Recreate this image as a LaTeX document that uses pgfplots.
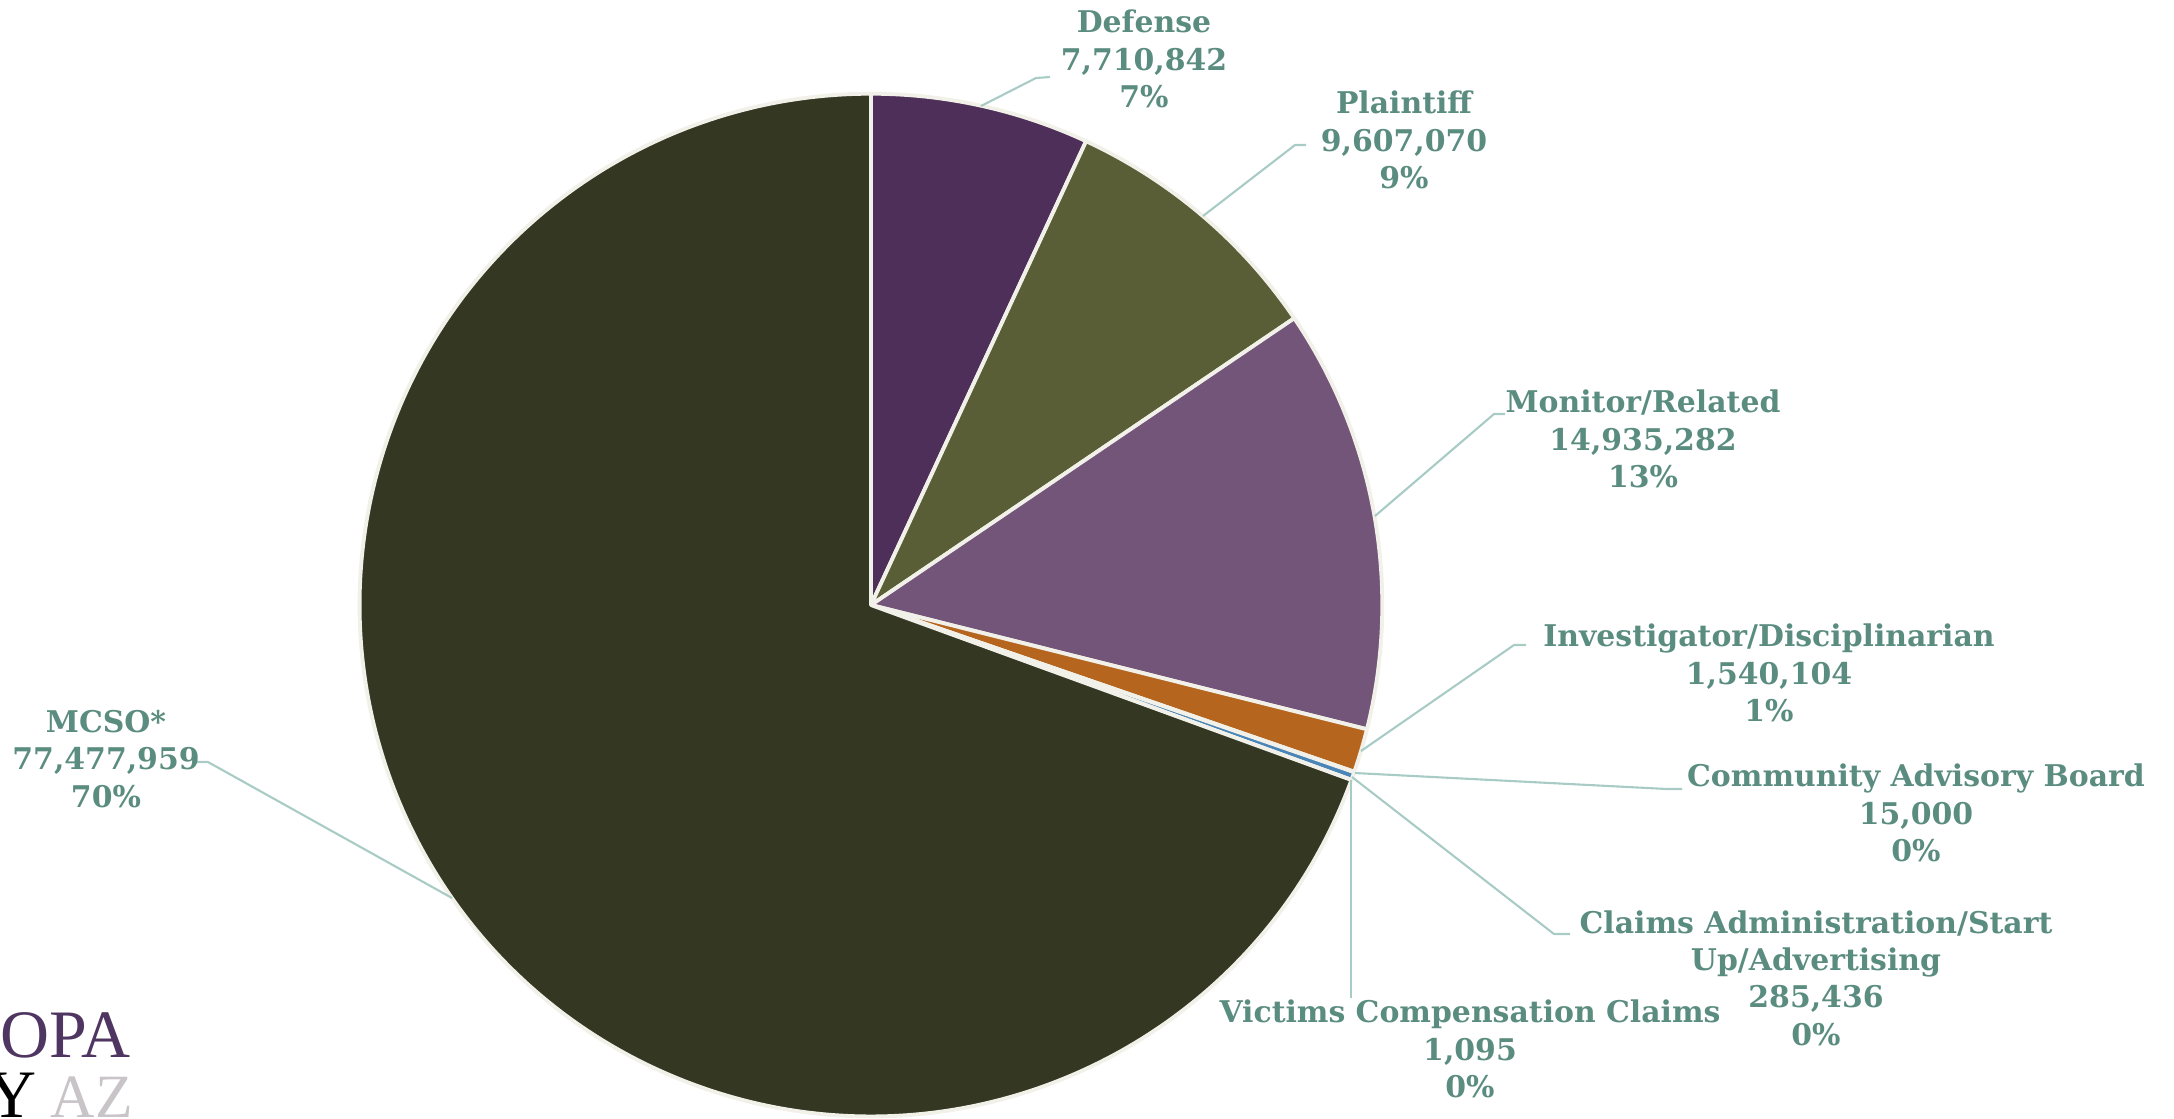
\documentclass[border=0pt]{standalone}
\usepackage{fontspec}
\usepackage{pgfplots}
\usepackage{pgfplotstable}
\pgfplotsset{compat=1.18}
\setmainfont{DejaVu Serif}
\newfontfamily\logofont{Liberation Serif}

\definecolor{cDef}{HTML}{4E2F5A}
\definecolor{cPla}{HTML}{5A5E37}
\definecolor{cMon}{HTML}{735579}
\definecolor{cInv}{HTML}{B5651E}
\definecolor{cCab}{HTML}{8A8A8A}
\definecolor{cCla}{HTML}{4A85B8}
\definecolor{cVic}{HTML}{9A9A9A}
\definecolor{cMcs}{HTML}{343822}
\definecolor{edge}{HTML}{F2F1E9}
\definecolor{labcol}{HTML}{5B8C80}
\definecolor{leader}{HTML}{A8CCC5}
\definecolor{logopurple}{HTML}{4F3561}
\definecolor{logogray}{HTML}{C8C4C8}

\tikzset{lab/.style={font=\bfseries\fontsize{8.5}{10.6}\selectfont, text=labcol, align=center, inner sep=0pt}}

% spending by category, clockwise from the top
\pgfplotstableread[col sep=comma]{
label,value,col
Defense,7710842,cDef
Plaintiff,9607070,cPla
Monitor/Related,14935282,cMon
Investigator/Disciplinarian,1540104,cInv
Community Advisory Board,15000,cCab
Claims Administration,285436,cCla
Victims Compensation Claims,1095,cVic
MCSO,77477959,cMcs
}\piedata

% total and slice angles
\def\tot{0}%
\pgfplotsforeachungrouped \i in {0,...,7}{%
  \pgfplotstablegetelem{\i}{value}\of\piedata
  \xdef\tot{\fpeval{\tot+\pgfplotsretval}}%
}%
\def\cum{0}%
\pgfplotsforeachungrouped \i in {0,...,7}{%
  \pgfplotstablegetelem{\i}{value}\of\piedata
  \let\v\pgfplotsretval
  \expandafter\xdef\csname aS\i\endcsname{\fpeval{90-360*\cum/\tot}}%
  \xdef\cum{\fpeval{\cum+\v}}%
  \expandafter\xdef\csname aE\i\endcsname{\fpeval{90-360*\cum/\tot}}%
  \pgfplotstablegetelem{\i}{col}\of\piedata
  \expandafter\xdef\csname cS\i\endcsname{\pgfplotsretval}%
}%

\begin{document}
\begin{tikzpicture}
\begin{axis}[
    x=0.01cm, y=0.01cm,
    xmin=0, xmax=2174, ymin=0, ymax=1118,
    y dir=reverse,
    enlargelimits=false,
    hide axis,
    clip=false,
]
% wedges
\pgfplotsinvokeforeach{0,...,7}{
  \edef\doslice{\noexpand\fill[fill=\csname cS#1\endcsname, draw=edge, line width=1.1pt, line join=round]
    (axis cs:871,605) -- ++(\csname aS#1\endcsname:5.11cm)
    arc[start angle=\csname aS#1\endcsname, end angle=\csname aE#1\endcsname, radius=5.11cm] -- cycle;}
  \doslice
}
% leader lines
\addplot[leader, line width=0.6pt, no markers] coordinates {(981,106) (1036,78) (1050,77)};
\addplot[leader, line width=0.6pt, no markers] coordinates {(1203,216) (1295,145) (1306,145)};
\addplot[leader, line width=0.6pt, no markers] coordinates {(1375,516) (1494,414) (1505,414)};
\addplot[leader, line width=0.6pt, no markers] coordinates {(1361,751) (1514,645) (1526,645)};
\addplot[leader, line width=0.6pt, no markers] coordinates {(1355,773) (1667,789) (1682,789)};
\addplot[leader, line width=0.6pt, no markers] coordinates {(1352,777) (1554,934) (1570,934)};
\addplot[leader, line width=0.6pt, no markers] coordinates {(1351,780) (1351,998)};
\addplot[leader, line width=0.6pt, no markers] coordinates {(452,898) (208,762) (192,762)};
% data labels
\node[lab] at (axis cs:1144,59) {Defense\\7,710,842\\7\%};
\node[lab] at (axis cs:1404,140) {Plaintiff\\9,607,070\\9\%};
\node[lab] at (axis cs:1643,439) {Monitor/Related\\14,935,282\\13\%};
\node[lab] at (axis cs:1769,673) {Investigator/Disciplinarian\\1,540,104\\1\%};
\node[lab] at (axis cs:1916,813) {Community Advisory Board\\15,000\\0\%};
\node[lab] at (axis cs:1816,978) {Claims Administration/Start\\Up/Advertising\\285,436\\0\%};
\node[lab] at (axis cs:1470,1049) {Victims Compensation Claims\\1,095\\0\%};
\node[lab] at (axis cs:106,759) {MCSO*\\77,477,959\\70\%};
% logo fragment
\node[anchor=base west, inner sep=0pt, font=\logofont\fontsize{19.3}{20}\selectfont, text=logopurple] at (axis cs:0,1057) {OPA};
\node[anchor=base west, inner sep=0pt, font=\logofont\fontsize{19.3}{20}\selectfont, text=black] at (axis cs:-13,1117) {Y};
\node[anchor=base west, inner sep=0pt, font=\logofont\fontsize{17.5}{18}\selectfont, text=logogray] at (axis cs:50,1117) {AZ};
\end{axis}
\pgfresetboundingbox
\path[use as bounding box] (current axis.south west) rectangle (current axis.north east);
\end{tikzpicture}
\end{document}
